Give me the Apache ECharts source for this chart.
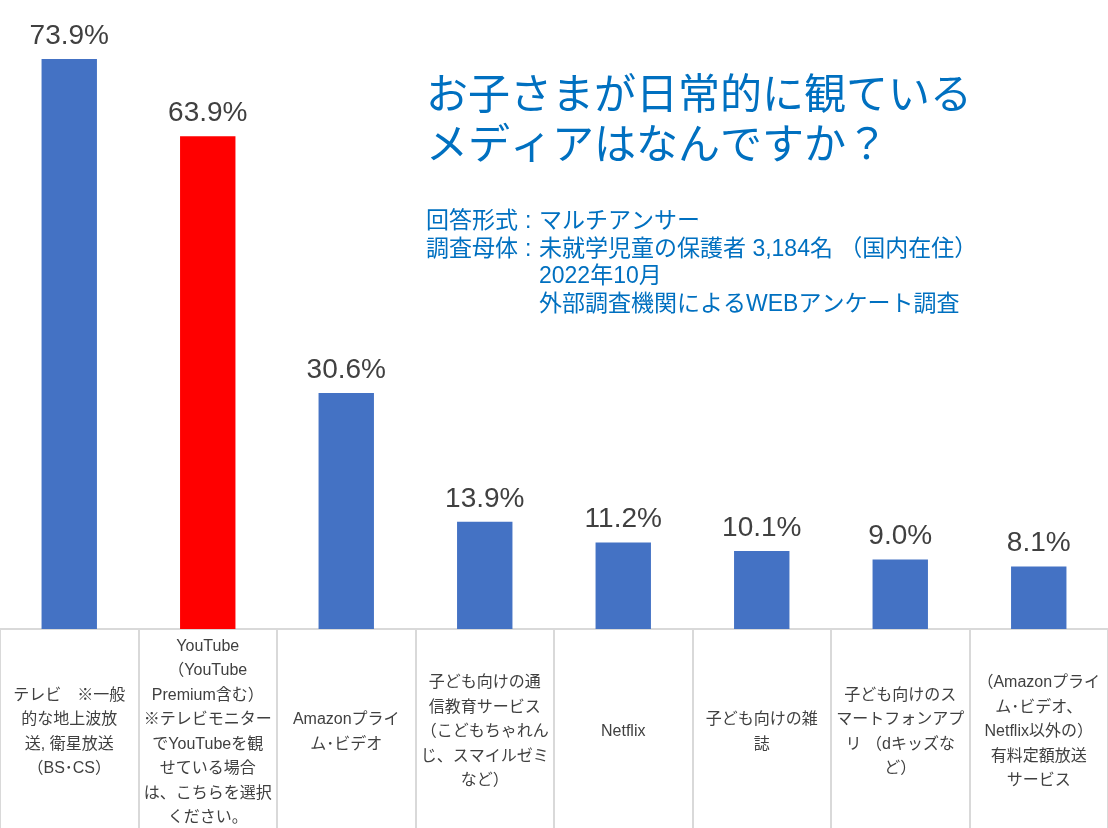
<!DOCTYPE html>
<html>
<head>
<meta charset="utf-8">
<script src="https://cdn.jsdelivr.net/npm/echarts@6/dist/echarts.min.js"></script>
<style>
  html, body { margin: 0; padding: 0; background: #fff; }
  #chart { width: 1108px; height: 828px; }
</style>
</head>
<body>
<div id="chart"></div>
<script>
// 回答（マルチアンサー）
var categories = [
  'テレビ　※一般\n的な地上波放\n送, 衛星放送\n（BS･CS）',
  'YouTube\n（YouTube\nPremium含む）\n※テレビモニター\nでYouTubeを観\nせている場合\nは、こちらを選択\nください。',
  'Amazonプライ\nム･ビデオ',
  '子ども向けの通\n信教育サービス\n（こどもちゃれん\nじ、スマイルゼミ\nなど）',
  'Netflix',
  '子ども向けの雑\n誌',
  '子ども向けのス\nマートフォンアプ\nリ （dキッズな\nど）',
  '（Amazonプライ\nム･ビデオ、\nNetflix以外の）\n有料定額放送\nサービス'
];
var values = [73.9, 63.9, 30.6, 13.9, 11.2, 10.1, 9.0, 8.1];
var highlightIndex = 1;

var titleLines = ['お子さまが日常的に観ている', 'メディアはなんですか？'];
var noteKeys = ['回答形式', '調査母体'];
var noteValues = ['マルチアンサー', '未就学児童の保護者 3,184名 （国内在住）', '2022年10月', '外部調査機関によるWEBアンケート調査'];

var sans = '"Liberation Sans", Arial, "Noto Sans CJK JP", sans-serif';
var blue = '#0070C0';

var chart = echarts.init(document.getElementById('chart'));
chart.setOption({
  animation: false,
  grid: { left: 0, right: 0, top: 12, bottom: 199, containLabel: false, outerBoundsMode: 'none' },
  xAxis: {
    type: 'category',
    data: categories,
    axisLine: { lineStyle: { color: '#d9d9d9', width: 2 } },
    axisTick: { show: true, length: 199, lineStyle: { color: '#d9d9d9', width: 2 } },
    axisLabel: {
      interval: 0,
      margin: 103,
      verticalAlign: 'middle',
      align: 'center',
      fontSize: 16,
      lineHeight: 24.5,
      color: '#404040',
      fontFamily: sans
    }
  },
  yAxis: { type: 'value', min: 0, max: 80, show: false, splitLine: { show: false } },
  series: [{
    type: 'bar',
    barWidth: '40%',
    data: values.map(function (v, i) {
      return { value: v, itemStyle: { color: i === highlightIndex ? '#FF0000' : '#4472C4' } };
    }),
    label: {
      show: true,
      position: 'top',
      distance: 9,
      fontSize: 28,
      color: '#404040',
      fontFamily: sans,
      formatter: function (p) { return p.value.toFixed(1) + '%'; }
    }
  }],
  graphic: [
    {
      type: 'text', left: 426, top: 72,
      style: { text: titleLines.join('\n'), fill: blue, fontSize: 42, lineHeight: 50, fontFamily: sans }
    },
    {
      type: 'text', left: 426, top: 208,
      style: { text: noteKeys.join('\n'), fill: blue, fontSize: 23, lineHeight: 27.5, fontFamily: sans }
    },
    {
      type: 'text', left: 525, top: 208,
      style: { text: ':\n:', fill: blue, fontSize: 23, lineHeight: 27.5, fontFamily: sans }
    },
    {
      type: 'text', left: 539, top: 208,
      style: { text: noteValues.join('\n'), fill: blue, fontSize: 23, lineHeight: 27.5, fontFamily: sans }
    }
  ]
});
</script>
</body>
</html>
